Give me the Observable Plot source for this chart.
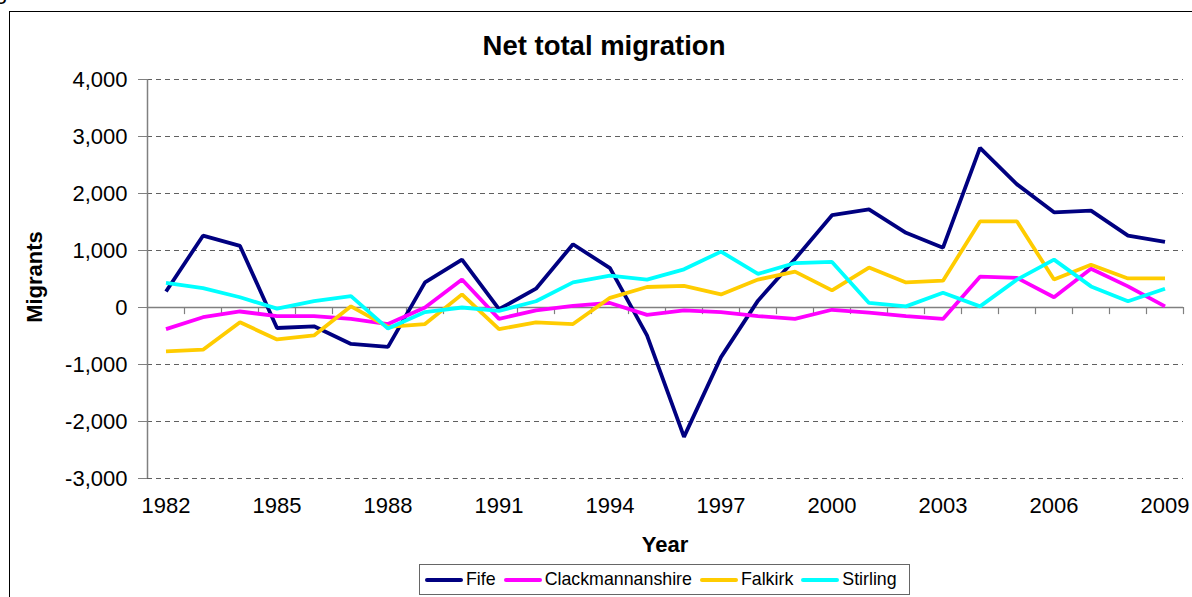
<!DOCTYPE html>
<html>
<head>
<meta charset="utf-8">
<script src="https://cdn.jsdelivr.net/npm/d3@7"></script>
<script src="https://cdn.jsdelivr.net/npm/@observablehq/plot@0.6"></script>
<style>
  html, body { margin: 0; padding: 0; background: #fff; }
  #wrap { position: relative; width: 1192px; height: 597px; overflow: hidden; font-family: "Liberation Sans", Arial, sans-serif; color: #000; }
  #wrap svg { position: absolute; left: 0; top: 0; }
  .abs { position: absolute; white-space: nowrap; line-height: 1; }
  #frame { position: absolute; left: 9px; top: 11px; width: 1200px; height: 620px; border: 1px solid #000; box-sizing: border-box; }
  #title { left: 0; width: 1208px; text-align: center; top: 32px; font-size: 27.5px; font-weight: bold; }
  #xlabel { left: 565px; width: 200px; text-align: center; top: 534px; font-size: 22px; font-weight: bold; }
  #ylabel { left: 43px; top: 277px; font-size: 22px; font-weight: bold; transform-origin: 0 0; transform: translate(0,0) rotate(-90deg) translate(-50%, -0.85em); }
  #fig { left: -23px; top: -19px; font-size: 22px; }
  #legend { position: absolute; left: 419px; top: 564px; width: 491px; height: 31px; border: 1px solid #666; box-sizing: border-box; display: flex; align-items: center; padding-left: 5px; font-size: 17.8px; background: #fff; }
  .item { display: flex; align-items: center; margin-right: 8px; }
  .sw { width: 38px; height: 4px; margin-right: 3px; border-radius: 2px; }
  g[aria-label="y-axis tick"] { stroke: #808080; }
</style>
</head>
<body>
<div id="wrap">
  <div id="frame"></div>
  <div id="fig" class="abs">Figure</div>
  <div id="title" class="abs">Net total migration</div>
  <div id="xlabel" class="abs">Year</div>
  <div id="ylabel" class="abs">Migrants</div>
  <div id="legend"></div>
</div>
<script>
const years = [1982,1983,1984,1985,1986,1987,1988,1989,1990,1991,1992,1993,1994,1995,1996,1997,1998,1999,2000,2001,2002,2003,2004,2005,2006,2007,2008,2009];
const fife = [280,1260,1080,-360,-330,-640,-690,440,840,-30,330,1110,690,-490,-2270,-870,120,850,1620,1720,1310,1050,2800,2160,1670,1700,1260,1150];
const clackmannanshire = [-380,-170,-70,-150,-150,-200,-290,0,490,-200,-50,30,80,-130,-50,-80,-150,-200,-40,-90,-150,-200,540,520,180,680,370,20];
const falkirk = [-770,-740,-260,-560,-490,20,-340,-290,230,-380,-260,-290,170,360,380,230,490,630,300,700,440,470,1510,1510,490,750,510,510];
const stirling = [430,340,180,-20,110,200,-370,-80,0,-60,110,440,560,490,670,980,590,780,800,80,20,260,20,490,840,370,110,330];
const seriesNames = ["Fife","Clackmannanshire","Falkirk","Stirling"];
const seriesColors = ["#000080","#FF00FF","#FFCC00","#00FFFF"];
const xTickLabels = [1982,1985,1988,1991,1994,1997,2000,2003,2006,2009];
const yTicks = [-3000,-2000,-1000,0,1000,2000,3000,4000];

const seriesValues = [fife, clackmannanshire, falkirk, stirling];
const data = [];
seriesNames.forEach((name, i) => {
  years.forEach((yr, j) => data.push({series: name, year: yr, value: seriesValues[i][j]}));
});
// category boundaries (between years) for the small tick marks on the zero line
const boundaries = years.map(y => y + 0.5);
const xMin = years[0] - 0.5;
const xMax = years[years.length - 1] + 0.5;
const yMin = yTicks[0], yMax = yTicks[yTicks.length - 1];

const fmt = d => d.toLocaleString("en-US").replace("\u2212", "-");

const chart = Plot.plot({
  width: 1192,
  height: 597,
  marginLeft: 147,
  marginRight: 9,
  marginTop: 79,
  marginBottom: 119,
  style: {fontFamily: '"Liberation Sans", Arial, sans-serif', fontSize: "22px", color: "#000", background: "transparent", overflow: "visible"},
  x: {domain: [xMin, xMax]},
  y: {domain: [yMin, yMax]},
  color: {domain: seriesNames, range: seriesColors},
  marks: [
    Plot.ruleY(yTicks.filter(d => d !== 0), {stroke: "#606060", strokeWidth: 1, strokeDasharray: "5,4"}),
    Plot.ruleY([0], {stroke: "#808080", strokeWidth: 1.5}),
    Plot.ruleX(boundaries, {y1: 0, y2: -125, stroke: "#808080", strokeWidth: 1.2}),
    Plot.ruleX([xMin], {y1: yMin, y2: yMax, stroke: "#808080", strokeWidth: 1.5}),
    Plot.axisY({ticks: yTicks, tickSize: 9, tickPadding: 11, tickFormat: fmt, label: null, fontSize: 22}),
    Plot.axisX({ticks: xTickLabels, tickSize: 0, tickPadding: 19, tickFormat: d => String(d), label: null, fontSize: 22}),
    Plot.line(data, {x: "year", y: "value", z: "series", stroke: "series", strokeWidth: 3.8, strokeLinejoin: "miter", strokeLinecap: "butt"})
  ]
});
document.getElementById("wrap").insertBefore(chart, document.getElementById("fig"));

const legend = document.getElementById("legend");
seriesNames.forEach((name, i) => {
  const item = document.createElement("div");
  item.className = "item";
  const sw = document.createElement("div");
  sw.className = "sw";
  sw.style.background = seriesColors[i];
  const t = document.createElement("span");
  t.textContent = name;
  item.appendChild(sw);
  item.appendChild(t);
  legend.appendChild(item);
});
</script>
</body>
</html>
